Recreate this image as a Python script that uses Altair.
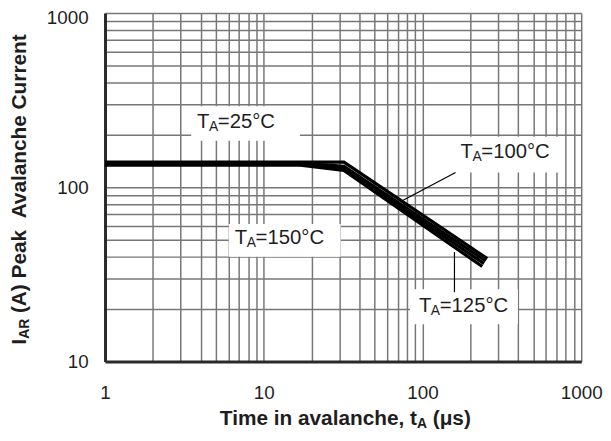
import altair as alt
import pandas as pd

FONT = "Liberation Sans"
INK = "#1e1e1e"
NB = "\u00a0"

# ---- curve data (t_A in us, I_AR in A) ----
x_25 = [1, 32, 256]
y_25 = [139.6, 139.6, 39.0]
x_100 = [1, 17, 32, 250]
y_100 = [138, 138, 132, 37.8]
x_125 = [1, 17, 32, 244]
y_125 = [136, 136, 128, 36.5]
x_150 = [1, 17, 32, 238]
y_150 = [134, 134, 125, 35.1]

# ---- tick / grid values ----
x_grid = [m * 10 ** k for k in range(3) for m in range(1, 10)] + [1000]
y_grid = [m * 10 ** k for k in range(1, 3) for m in range(1, 10)] + [1000]
x_labels = [1, 10, 100, 1000]
y_labels = [10, 100, 1000]

# ---- annotations ----
ann_rest = ["=25°C", "=100°C", "=150°C", "=125°C"]
ann_x = [3.8, 173.6, 6.57, 95.0]
ann_y = [237, 160, 51.3, 20.8]
box_x0 = [3.49, 164, 6.02, 83.4]
box_x1 = [16.9, 784, 30.5, 399]
box_y0 = [185, 121.7, 40.0, 16.4]
box_y1 = [292, 195, 61.6, 26.0]
lead_x0 = [161.6, 159]
lead_y0 = [121.7, 25.0]
lead_x1 = [75.5, 159]
lead_y1 = [84.4, 42.5]

rows = []
for name, xs, ys in [("25", x_25, y_25), ("100", x_100, y_100),
                     ("125", x_125, y_125), ("150", x_150, y_150)]:
    for k, (a, b) in enumerate(zip(xs, ys)):
        rows.append({"series": name, "k": k, "x": a, "y": b})
curves = pd.DataFrame(rows)

boxes = pd.DataFrame({"x": box_x0, "x2": box_x1, "y": box_y0, "y2": box_y1})
ann = pd.DataFrame({"x": ann_x, "y": ann_y, "rest": ann_rest})
leads = pd.DataFrame({"x": lead_x0, "y": lead_y0, "x2": lead_x1, "y2": lead_y1})

xscale = alt.Scale(type="log", domain=[1, 1000], nice=False)
yscale = alt.Scale(type="log", domain=[10, 1000], nice=False)


def lab_expr(vals):
    cond = " || ".join(f"datum.value == {v}" for v in vals)
    return f"({cond}) ? (datum.value + '') : ''"


common_axis = dict(
    title=None, ticks=False, grid=True, gridColor="#777777", gridWidth=1.5,
    domainColor="#2a2a2a", domainWidth=3, labelFont=FONT, labelFontSize=19,
    labelColor=INK, labelOverlap=False, labelFlush=False,
)
xaxis = alt.Axis(values=x_grid, labelExpr=lab_expr(x_labels), labelPadding=22, **common_axis)
yaxis = alt.Axis(values=y_grid, labelExpr=lab_expr(y_labels), labelPadding=17,
                 labelOffset={"condition": {"test": "datum.value == 1000", "value": 5}, "value": 0},
                 **common_axis)


def X(f):
    return alt.X(f, type="quantitative", scale=xscale, axis=xaxis)


def Y(f):
    return alt.Y(f, type="quantitative", scale=yscale, axis=yaxis)


rects = alt.Chart(boxes).mark_rect(fill="white").encode(
    x=X("x"), x2="x2", y=Y("y"), y2="y2")

lines = alt.Chart(curves).mark_line(color="black", strokeWidth=3.2, strokeCap="butt").encode(
    x=X("x"), y=Y("y"), detail="series:N", order="k:O")

leaders = alt.Chart(leads).mark_rule(color="black", strokeWidth=1.2).encode(
    x=X("x"), y=Y("y"), x2="x2", y2="y2")

t_main = alt.Chart(ann).mark_text(text="T", font=FONT, fontSize=20.5, color=INK,
                                  align="left", baseline="middle").encode(x=X("x"), y=Y("y"))
t_sub = alt.Chart(ann).mark_text(text="A", font=FONT, fontSize=14, color=INK,
                                 align="left", baseline="middle", dx=12, dy=5).encode(x=X("x"), y=Y("y"))
t_rest = alt.Chart(ann).mark_text(font=FONT, fontSize=20.5, color=INK,
                                  align="left", baseline="middle", dx=21).encode(
    x=X("x"), y=Y("y"), text="rest:N")

one = pd.DataFrame({"d": [0]})
TF = dict(font=FONT, fontWeight="bold", color=INK, align="left", baseline="middle")

# x-axis title: "Time in avalanche, tA (μs)"
XT_X, XT_Y = 116, 410
xt1 = alt.Chart(one).mark_text(text="Time in avalanche, t", fontSize=21, **TF).encode(
    x=alt.value(XT_X), y=alt.value(XT_Y))
xt2 = alt.Chart(one).mark_text(text="A", fontSize=14, dx=199, dy=5, **TF).encode(
    x=alt.value(XT_X), y=alt.value(XT_Y))
xt3 = alt.Chart(one).mark_text(text="(μs)", fontSize=21, dx=215, **TF).encode(
    x=alt.value(XT_X), y=alt.value(XT_Y))

# y-axis title: "IAR (A) Peak Avalanche Current"
YT_X, YT_Y = -86, 335
yt1 = alt.Chart(one).mark_text(text="I", fontSize=21, angle=270, **TF).encode(
    x=alt.value(YT_X), y=alt.value(YT_Y))
yt2 = alt.Chart(one).mark_text(text="AR", fontSize=14, angle=270, dx=6, dy=5, **TF).encode(
    x=alt.value(YT_X), y=alt.value(YT_Y))
yt3 = alt.Chart(one).mark_text(text="(A) Peak" + NB + NB + "Avalanche Current", fontSize=21,
                               angle=270, dx=32, **TF).encode(x=alt.value(YT_X), y=alt.value(YT_Y))

chart = alt.layer(
    rects, lines, leaders, t_main, t_sub, t_rest, xt1, xt2, xt3, yt1, yt2, yt3
).properties(
    width=481, height=352,
    autosize=alt.AutoSizeParams(type="none"),
    padding={"left": 98, "top": 3, "right": 22, "bottom": 70},
    background="white",
).configure_view(strokeWidth=0)

chart.save("out.html", embed_options={"renderer": "svg", "actions": False})
